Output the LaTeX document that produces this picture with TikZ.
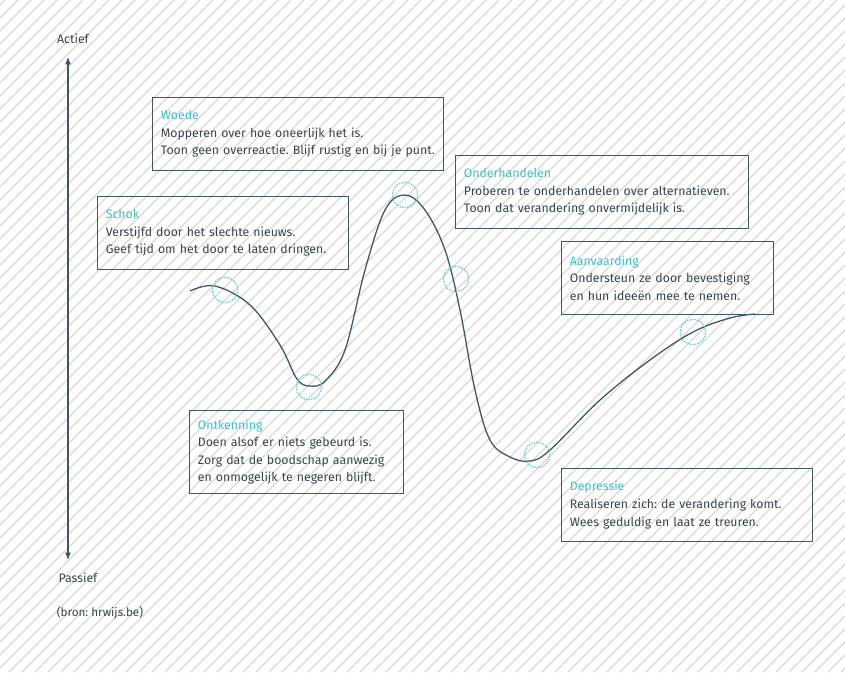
\documentclass[tikz,border=0pt]{standalone}
\usepackage{fontspec}
\setmainfont{Fira Sans}
\usepackage{xcolor}
\usepackage{tikz}
\usetikzlibrary{positioning,arrows.meta,calc}
\frenchspacing

\definecolor{slate}{HTML}{3A5868}
\definecolor{phase}{HTML}{3DBFC6}
\definecolor{bodytext}{HTML}{36464F}
\definecolor{hatch}{HTML}{D8D8D8}

\begin{document}
\begin{tikzpicture}[x=0.03cm,y=-0.03cm,
                    every node/.style={font=\fontsize{10.5}{15}\selectfont,text=bodytext},
                    phasebox/.style={draw=slate,line width=0.9pt,anchor=north west,
                                     align=left,inner xsep=0.25cm,inner ysep=0pt,
                                     minimum height=2.19cm},
                    marker/.style={draw=phase!85,densely dotted,line width=1.1pt,
                                   circle,minimum size=0.76cm,inner sep=0pt}]
  \useasboundingbox (0,0) rectangle (845,672);
  % hatched background
  \begin{scope}
    \clip (0,0) rectangle (845,672);
    \foreach \a in {-680,-667,...,845}
      \draw[hatch,line width=1.1pt] (\a,672) -- ++(672,-672);
  \end{scope}

  % axis
  \coordinate (top) at (68,57);
  \coordinate (bottom) at (68,560);
  \draw[slate,line width=1pt,{Latex[length=2.2mm,width=1.8mm]}-{Latex[length=2.2mm,width=1.8mm]}] (bottom) -- (top);
  \node (actief)  at (73,39)  {Actief};
  \node (passief) at (78,578) {Passief};
  \node[font=\fontsize{10}{12}\selectfont] (bron) at (100,613) {(bron: hrwijs.be)};

  % phases
  \node[phasebox,text width=8.23cm] (woede) at (152,97)
    {\textcolor{phase}{Woede}\\Mopperen over hoe oneerlijk het is.\\Toon geen overreactie. Blijf rustig en bij je punt.};
  \node[phasebox,text width=7.03cm] (schok) at (97,196)
    {\textcolor{phase}{Schok}\\Verstijfd door het slechte nieuws.\\Geef tijd om het door te laten dringen.};
  \node[phasebox,text width=8.29cm] (onderh) at (455,155)
    {\textcolor{phase}{Onderhandelen}\\Proberen te onderhandelen over alternatieven.\\Toon dat verandering onvermijdelijk is.};
  \node[phasebox,text width=5.86cm] (aanv) at (561,241)
    {\textcolor{phase}{Aanvaarding}\\Ondersteun ze door bevestiging\\en hun ideeën mee te nemen.};
  \node[phasebox,text width=5.92cm,minimum height=2.49cm] (ontk) at (189,410)
    {\textcolor{phase}{Ontkenning}\\Doen alsof er niets gebeurd is.\\Zorg dat de boodschap aanwezig\\en onmogelijk te negeren blijft.};
  \node[phasebox,text width=7.03cm] (depr) at (561,468)
    {\textcolor{phase}{Depressie}\\Realiseren zich: de verandering komt.\\Wees geduldig en laat ze treuren.};

  % curve
  \draw[slate,line width=1.1pt] plot[smooth,tension=0.6] coordinates
    {(190,291) (215,286) (250,305) (280,345) (297,379) (310,386) (325,381)
     (345,350) (365,270) (385,210) (405,195) (425,210) (445,250) (460,310)
     (475,390) (490,440) (510,457) (530,461) (550,450) (600,400) (650,360)
     (693,332) (730,318) (755,314)};

  \node[marker] (m1) at (225,290) {};
  \node[marker] (m2) at (309,387) {};
  \node[marker] (m3) at (405,195) {};
  \node[marker] (m4) at (456,279) {};
  \node[marker] (m5) at (537,455) {};
  \node[marker] (m6) at (693,332) {};
\end{tikzpicture}
\end{document}
